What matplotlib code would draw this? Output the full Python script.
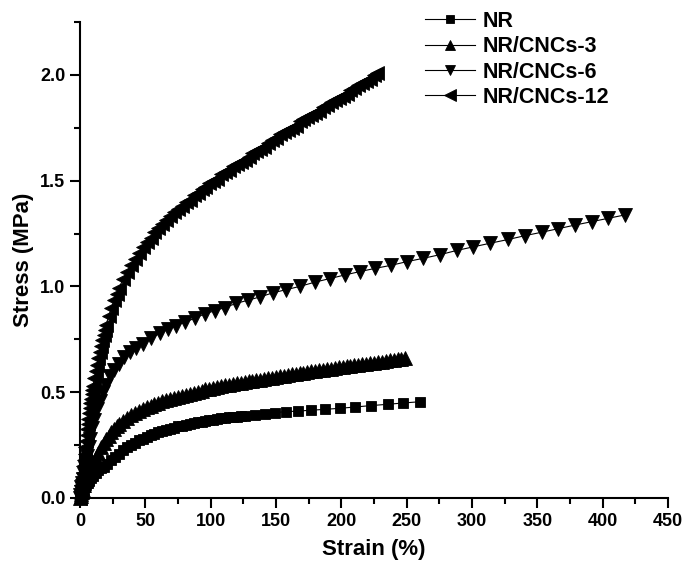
import matplotlib
matplotlib.use("Agg")
import matplotlib.pyplot as plt
from matplotlib.ticker import MultipleLocator

plt.rcParams['font.family'] = ['Liberation Sans', 'DejaVu Sans']
plt.rcParams['font.weight'] = 'bold'

labels = ["NR", "NR/CNCs-3", "NR/CNCs-6", "NR/CNCs-12"]
markers = ["s", "^", "v", "<"]

nr_strain = [0, 0.6, 1.2, 1.9, 2.7, 3.6, 4.6, 5.8, 7, 8.5, 10, 12, 14, 16, 18, 21, 24, 27,
             30, 33, 36, 39, 42, 45, 48, 51, 54, 57, 60, 63, 66, 69, 72, 75, 78, 81, 84, 87,
             90, 93, 96, 99, 102, 105, 108, 111, 114, 117, 120, 123,
             126, 133.7, 141.3, 149, 157.9, 166.9, 177.1, 187.3, 198.8, 210.3, 223, 235.7,
             247.2, 260]
nr_stress = [0, 0.01, 0.02, 0.03, 0.04, 0.05, 0.06, 0.07, 0.08, 0.095, 0.105, 0.118, 0.13,
             0.14, 0.147, 0.16, 0.178, 0.195, 0.21, 0.225, 0.24, 0.252, 0.262, 0.272, 0.281,
             0.289, 0.296, 0.303, 0.31, 0.316, 0.322, 0.328, 0.333, 0.338, 0.342, 0.346, 0.35,
             0.354, 0.358, 0.361, 0.364, 0.367, 0.37, 0.373, 0.376, 0.378, 0.381, 0.383, 0.385,
             0.387, 0.389, 0.394, 0.399, 0.404, 0.408, 0.411, 0.415, 0.419, 0.424, 0.43, 0.437,
             0.443, 0.449, 0.455]

c3_strain = [0, 0.5, 1, 1.5, 2, 3, 4, 5, 6, 7, 8, 9, 10, 12, 14, 16, 18, 20, 22, 24, 26, 28,
             30, 33, 36, 39, 42, 45, 48, 51, 54, 57, 60, 63, 66, 69, 72, 75, 78, 81, 84, 87,
             90, 93, 96, 99, 102, 105, 108, 111, 114, 117, 120, 123, 126, 129, 132, 135, 138,
             141, 144, 147, 150, 153, 156, 159, 162, 165, 168, 171, 174, 177, 180, 183, 186,
             189, 192, 195, 198, 201, 204, 207, 210, 213, 216, 219, 222, 225, 228, 231, 234,
             237, 240, 243, 246, 249]
c3_stress = [0, 0.01, 0.02, 0.03, 0.04, 0.06, 0.08, 0.095, 0.11, 0.125, 0.14, 0.152, 0.165,
             0.19, 0.215, 0.24, 0.262, 0.28, 0.295, 0.31, 0.325, 0.338, 0.35, 0.365, 0.38,
             0.392, 0.402, 0.412, 0.421, 0.43, 0.437, 0.444, 0.451, 0.457, 0.463, 0.468, 0.473,
             0.478, 0.483, 0.488, 0.493, 0.498, 0.503, 0.508, 0.513, 0.517, 0.521, 0.525, 0.529,
             0.532, 0.535, 0.539, 0.542, 0.545, 0.548, 0.551, 0.554, 0.557, 0.56, 0.563, 0.566,
             0.569, 0.572, 0.575, 0.578, 0.581, 0.584, 0.587, 0.59, 0.592, 0.595, 0.598, 0.601,
             0.604, 0.607, 0.609, 0.612, 0.615, 0.618, 0.62, 0.623, 0.625, 0.628, 0.63, 0.633,
             0.635, 0.638, 0.64, 0.643, 0.645, 0.648, 0.65, 0.652, 0.655, 0.657, 0.66]

c6_strain = [0, 0.3, 0.6, 1.0, 1.5, 2.1, 2.8, 3.6, 4.5, 5.5, 6.7, 8, 9.5, 11, 13, 15, 17.5,
             20, 23, 26, 29.5, 33.5, 38, 43.1, 48.2, 54.6, 61, 67.4, 73.7, 80.1, 87.8, 95.4,
             103, 110.7, 119.6, 128.6, 137.5, 147.7, 157.9, 168.1, 179.6, 191, 202.5, 214,
             225.5, 238.2, 250, 262.7, 275.4, 288.2, 300.9, 313.7, 327.7, 340.5, 353.2, 366,
             378.7, 391.5, 404.2, 417]
c6_stress = [0, 0.015, 0.03, 0.05, 0.07, 0.09, 0.115, 0.14, 0.17, 0.2, 0.24, 0.28, 0.33,
             0.37, 0.42, 0.46, 0.5, 0.535, 0.575, 0.605, 0.635, 0.665, 0.69, 0.71, 0.73, 0.755,
             0.778, 0.798, 0.815, 0.83, 0.85, 0.87, 0.885, 0.90, 0.92, 0.935, 0.95, 0.97,
             0.985, 1.0, 1.02, 1.037, 1.054, 1.07, 1.085, 1.10, 1.117, 1.133, 1.15, 1.17,
             1.187, 1.204, 1.222, 1.24, 1.256, 1.273, 1.29, 1.306, 1.322, 1.338]

c12_strain = [0, 0.5, 1, 1.5, 2, 2.5, 3, 3.5, 4, 4.5, 5, 5.5, 6, 6.5, 7, 7.5, 8, 8.5, 9,
              9.5, 10, 11, 12, 13, 14, 15, 16, 17, 18, 19, 20, 22, 24, 26, 28, 30, 33, 36,
              39, 42, 45, 48, 51, 54, 57, 60, 63, 66, 69, 72, 75, 78, 81, 84, 87, 90, 93, 96,
              99, 102, 105, 108, 111, 114, 117, 120, 123, 126, 129, 132, 135, 138, 141, 144,
              147, 150, 153, 156, 159, 162, 165, 168, 171, 174, 177, 180, 183, 186, 189, 192,
              195, 198, 201, 204, 207, 210, 213, 216, 219, 222, 225, 227]
c12_stress = [0, 0.03, 0.06, 0.09, 0.12, 0.15, 0.18, 0.21, 0.24, 0.27, 0.30, 0.325,
              0.35, 0.375, 0.40, 0.425, 0.45, 0.47, 0.49, 0.51, 0.53, 0.565, 0.60, 0.63, 0.66,
              0.69, 0.72, 0.745, 0.77, 0.795, 0.82, 0.86, 0.90, 0.935, 0.965, 0.995, 1.035, 1.07,
              1.10, 1.13, 1.16, 1.185, 1.21, 1.23, 1.255, 1.275, 1.295, 1.315, 1.335, 1.35, 1.365,
              1.38, 1.40, 1.41, 1.43, 1.44, 1.46, 1.47, 1.49, 1.50, 1.51, 1.53, 1.54, 1.55,
              1.57, 1.58, 1.59, 1.60, 1.61, 1.63, 1.64, 1.65, 1.66, 1.68, 1.69, 1.70, 1.72,
              1.73, 1.74, 1.75, 1.76, 1.78, 1.79, 1.80, 1.81, 1.82, 1.83, 1.85, 1.86, 1.87,
              1.88, 1.89, 1.90, 1.91, 1.93, 1.94, 1.95, 1.96, 1.97, 1.98, 2.00, 2.01]

series = [(nr_strain, nr_stress), (c3_strain, c3_stress),
          (c6_strain, c6_stress), (c12_strain, c12_stress)]
msizes = [7.0, 9.5, 9.5, 10.0]

fig = plt.figure(figsize=(6.83, 5.62), dpi=100)
ax = fig.add_axes([80/683, 64/562, 588/683, 476/562])

handles = []
for (xs, ys), lab, mk, ms in zip(series, labels, markers, msizes):
    h, = ax.plot(xs, ys, color='black', lw=0.8, marker=mk, markersize=ms,
                 markeredgewidth=0.6, markerfacecolor='black', markeredgecolor='black',
                 label=lab, clip_on=False)
    handles.append(h)

ax.set_xlim(0, 450)
ax.set_ylim(0, 2.25)
ax.xaxis.set_major_locator(MultipleLocator(50))
ax.xaxis.set_minor_locator(MultipleLocator(25))
ax.yaxis.set_major_locator(MultipleLocator(0.5))
ax.yaxis.set_minor_locator(MultipleLocator(0.25))
ax.yaxis.set_major_formatter(plt.FormatStrFormatter('%.1f'))

for s in ['top', 'right']:
    ax.spines[s].set_visible(False)
for s in ['left', 'bottom']:
    ax.spines[s].set_linewidth(1.5)

ax.tick_params(which='major', direction='out', length=7, width=1.5, labelsize=13, pad=3.5)
ax.tick_params(which='minor', direction='out', length=4, width=1.5)
for t in ax.get_xticklabels() + ax.get_yticklabels():
    t.set_fontweight('bold')

ax.set_xlabel('Strain (%)', fontsize=16, fontweight='bold', labelpad=7)
ax.set_ylabel('Stress (MPa)', fontsize=16, fontweight='bold', labelpad=4)

leg = fig.legend(handles=handles, loc='upper left',
                 bbox_to_anchor=(425/683, 1 - 11/562), frameon=False,
                 prop={'size': 15.5, 'weight': 'bold'}, handlelength=2.3,
                 handletextpad=0.37, labelspacing=0.2, borderpad=0, borderaxespad=0,
                 markerscale=0.8)

fig.savefig('out.png', dpi=100)
